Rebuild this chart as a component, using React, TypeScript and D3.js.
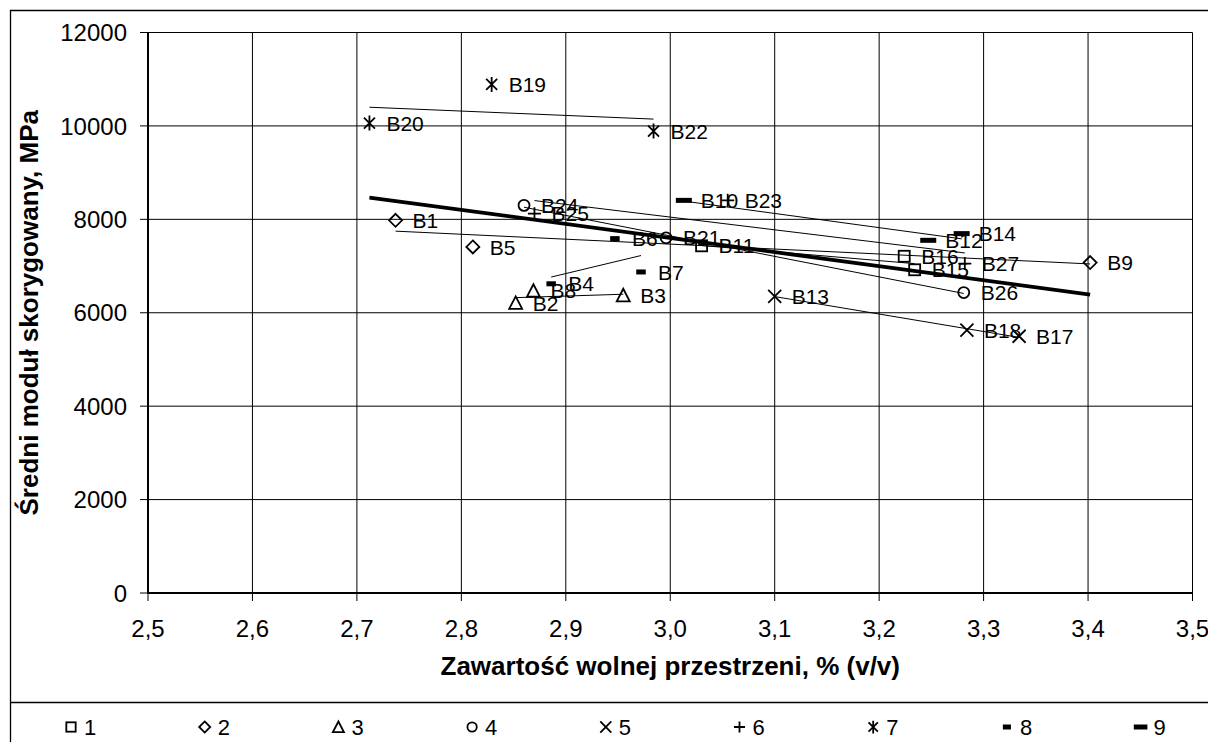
import React from 'react';
import * as d3 from 'd3';

const W = 1208;
const H = 742;

// Series names (legend) and per-series point labels / values
const seriesNames = ['1', '2', '3', '4', '5', '6', '7', '8', '9'];
const pointLabels = [
  ['B11', 'B16', 'B15'],
  ['B1', 'B5', 'B9'],
  ['B2', 'B8', 'B3'],
  ['B24', 'B21', 'B26'],
  ['B13', 'B18', 'B17'],
  ['B25', 'B23', 'B27'],
  ['B20', 'B19', 'B22'],
  ['B4', 'B6', 'B7'],
  ['B10', 'B12', 'B14'],
];
const xValues = [
  [3.030, 3.224, 3.234],
  [2.737, 2.811, 3.402],
  [2.852, 2.869, 2.955],
  [2.860, 2.996, 3.281],
  [3.100, 3.284, 3.334],
  [2.870, 3.055, 3.282],
  [2.712, 2.829, 2.984],
  [2.886, 2.947, 2.972],
  [3.013, 3.247, 3.279],
];
const yValues = [
  [7433, 7209, 6920],
  [7979, 7408, 7074],
  [6210, 6471, 6374],
  [8299, 7604, 6432],
  [6353, 5626, 5497],
  [8122, 8406, 7052],
  [10060, 10888, 9889],
  [6620, 7587, 6873],
  [8406, 7551, 7694],
];

const xTicks = [2.5, 2.6, 2.7, 2.8, 2.9, 3.0, 3.1, 3.2, 3.3, 3.4, 3.5];
const yTicks = [0, 2000, 4000, 6000, 8000, 10000, 12000];

const xTitle = 'Zawartość wolnej przestrzeni, % (v/v)';
const yTitle = 'Średni moduł skorygowany, MPa';

const FONT = "Arial, 'Liberation Sans', sans-serif";

const xScale = d3.scaleLinear().domain([2.5, 3.5]).range([148, 1192.5]);
const yScale = d3.scaleLinear().domain([0, 12000]).range([593, 32.5]);

function fit(xs: number[], ys: number[]) {
  const mx = d3.mean(xs) as number;
  const my = d3.mean(ys) as number;
  let sxy = 0;
  let sxx = 0;
  xs.forEach((x, i) => {
    sxy += (x - mx) * (ys[i] - my);
    sxx += (x - mx) * (x - mx);
  });
  const b = sxy / sxx;
  const a = my - b * mx;
  const x0 = d3.min(xs) as number;
  const x1 = d3.max(xs) as number;
  return [
    [x0, a + b * x0],
    [x1, a + b * x1],
  ] as [number, number][];
}

function Marker({ type, x, y, s = 1 }: { type: number; x: number; y: number; s?: number }) {
  const sw = 1.8;
  switch (type) {
    case 0:
      return <rect x={x - 5.5 * s} y={y - 5.5 * s} width={11 * s} height={11 * s} fill="none" stroke="#000" strokeWidth={sw} />;
    case 1:
      return <path d={`M${x},${y - 6.5 * s}L${x + 6.5 * s},${y}L${x},${y + 6.5 * s}L${x - 6.5 * s},${y}Z`} fill="none" stroke="#000" strokeWidth={sw} />;
    case 2:
      return <path d={`M${x},${y - 6.5 * s}L${x + 6.5 * s},${y + 6 * s}L${x - 6.5 * s},${y + 6 * s}Z`} fill="none" stroke="#000" strokeWidth={sw} />;
    case 3:
      return <circle cx={x} cy={y} r={5.5 * s} fill="none" stroke="#000" strokeWidth={sw} />;
    case 4:
      return <path d={`M${x - 6.5 * s},${y - 6.5 * s}L${x + 6.5 * s},${y + 6.5 * s}M${x - 6.5 * s},${y + 6.5 * s}L${x + 6.5 * s},${y - 6.5 * s}`} stroke="#000" strokeWidth={sw} />;
    case 5:
      return <path d={`M${x - 6.5 * s},${y}L${x + 6.5 * s},${y}M${x},${y - 6.5 * s}L${x},${y + 6.5 * s}`} stroke="#000" strokeWidth={sw} />;
    case 6:
      return <path d={`M${x - 5.5 * s},${y - 5.5 * s}L${x + 5.5 * s},${y + 5.5 * s}M${x - 5.5 * s},${y + 5.5 * s}L${x + 5.5 * s},${y - 5.5 * s}M${x},${y - 7.5 * s}L${x},${y + 7.5 * s}`} stroke="#000" strokeWidth={sw} />;
    case 7:
      return <rect x={x - 4.75 * s} y={y - 2.5} width={9.5 * s} height={5} fill="#000" />;
    default:
      return <rect x={x - 8 * s} y={y - 2.5} width={16 * s} height={5} fill="#000" />;
  }
}

const fmtX = (v: number) => d3.format('.1f')(v).replace('.', ',');

export default function App() {
  const allX = xValues.flat();
  const allY = yValues.flat();
  const overall = fit(allX, allY);
  const line = d3
    .line<[number, number]>()
    .x((d) => xScale(d[0]))
    .y((d) => yScale(d[1]));

  const [x0, x1] = xScale.range();
  const [y0, y1] = yScale.range();

  return (
    <svg
      width={W}
      height={H}
      style={{ position: 'absolute', left: 0, top: 0, background: '#fff' }}
      fontFamily={FONT}
    >
      <rect x={0} y={0} width={W} height={H} fill="#fff" />
      {/* chart frame */}
      <path d={`M10.5,${H + 5}V10.5H${W + 5}`} fill="none" stroke="#000" strokeWidth={1.3} />
      <line x1={10} x2={W + 5} y1={702.5} y2={702.5} stroke="#000" strokeWidth={1.3} />

      {/* gridlines */}
      {yTicks.map((t) => (
        <line key={'gy' + t} x1={x0} x2={x1} y1={yScale(t)} y2={yScale(t)} stroke="#000" strokeWidth={1} />
      ))}
      {xTicks.map((t) => (
        <line key={'gx' + t} x1={xScale(t)} x2={xScale(t)} y1={y0} y2={y1} stroke="#000" strokeWidth={1} />
      ))}
      {/* axes */}
      <line x1={x0} x2={x0} y1={y0 + 1} y2={y1} stroke="#000" strokeWidth={2} />
      <line x1={x0 - 1} x2={x1} y1={y0} y2={y0} stroke="#000" strokeWidth={2} />
      {yTicks.map((t) => (
        <g key={'ty' + t}>
          <line x1={x0 - 8} x2={x0} y1={yScale(t)} y2={yScale(t)} stroke="#000" strokeWidth={1} />
          <text x={127} y={yScale(t)} dy="0.36em" textAnchor="end" fontSize={24}>
            {t}
          </text>
        </g>
      ))}
      {xTicks.map((t) => (
        <g key={'tx' + t}>
          <line x1={xScale(t)} x2={xScale(t)} y1={y0} y2={y0 + 8} stroke="#000" strokeWidth={1} />
          <text x={xScale(t)} y={637} textAnchor="middle" fontSize={24}>
            {fmtX(t)}
          </text>
        </g>
      ))}

      {/* axis titles */}
      <text x={(x0 + x1) / 2} y={675} textAnchor="middle" fontSize={26} fontWeight="bold">
        {xTitle}
      </text>
      <text transform={`translate(38,${(y0 + y1) / 2}) rotate(-90)`} textAnchor="middle" fontSize={26} fontWeight="bold">
        {yTitle}
      </text>

      {/* per-series trendlines */}
      {xValues.map((xs, i) => (
        <path key={'tl' + i} d={line(fit(xs, yValues[i])) || ''} stroke="#000" strokeWidth={1} fill="none" />
      ))}
      {/* overall trendline */}
      <path d={line(overall) || ''} stroke="#000" strokeWidth={3.8} fill="none" />

      {/* markers */}
      {xValues.map((xs, i) =>
        xs.map((x, j) => <Marker key={`m${i}-${j}`} type={i} x={xScale(x)} y={yScale(yValues[i][j])} />)
      )}
      {/* labels */}
      {xValues.map((xs, i) =>
        xs.map((x, j) => (
          <text key={`l${i}-${j}`} x={xScale(x) + 17} y={yScale(yValues[i][j])} dy="0.36em" fontSize={21}>
            {pointLabels[i][j]}
          </text>
        ))
      )}

      {/* legend */}
      {seriesNames.map((n, i) => {
        const lx = 71 + i * 133.7;
        const ly = 727;
        return (
          <g key={'lg' + i}>
            <Marker type={i} x={lx} y={ly} s={0.85} />
            <text x={lx + 13} y={ly} dy="0.36em" fontSize={22}>
              {n}
            </text>
          </g>
        );
      })}
    </svg>
  );
}
